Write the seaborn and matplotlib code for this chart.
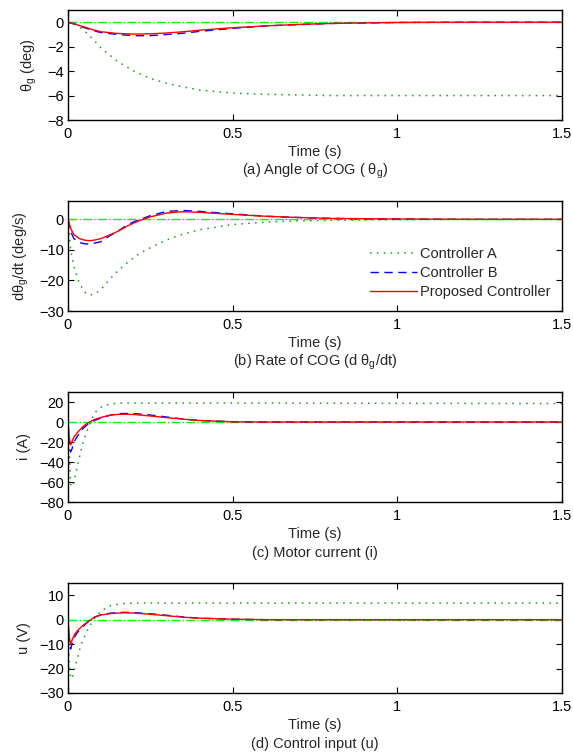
import matplotlib
matplotlib.use("Agg")
import matplotlib.pyplot as plt
import pandas as pd
import seaborn as sns

# (a) angle of COG
t_a = [0, 0.02, 0.05, 0.08, 0.1, 0.15, 0.2, 0.25, 0.3, 0.35, 0.4, 0.5, 0.6, 0.7, 0.8, 1.0, 1.2, 1.5]
a_ctrl_a = [0, -0.1, -0.7, -1.5, -2.1, -3.2, -4.0, -4.6, -5.0, -5.3, -5.55, -5.8, -5.9, -5.95, -6.0, -6.0, -6.0, -6.0]
a_ctrl_b = [0, -0.15, -0.45, -0.7, -0.85, -1.0, -1.1, -1.1, -1.0, -0.9, -0.75, -0.5, -0.3, -0.2, -0.1, -0.02, 0, 0]
a_prop = [0, -0.15, -0.4, -0.65, -0.78, -0.92, -0.97, -0.95, -0.88, -0.78, -0.65, -0.45, -0.3, -0.18, -0.1, -0.02, 0, 0]

# (b) rate of COG
t_b = [0, 0.008, 0.018, 0.034, 0.05, 0.065, 0.08, 0.1, 0.125, 0.15, 0.18, 0.2, 0.22, 0.25, 0.3, 0.35,
       0.4, 0.5, 0.6, 0.7, 0.8, 1.0, 1.2, 1.5]
b_ctrl_a = [0, -10, -15.4, -20.8, -23.8, -24.8, -24.5, -23, -19.8, -17, -14.2, -12.5, -11, -9.3, -6.7, -4.8,
            -3.4, -1.7, -0.9, -0.5, -0.3, -0.1, 0, 0]
b_ctrl_b = [0, -4, -6.3, -7.6, -8.0, -8.1, -7.8, -7.3, -5.5, -4, -1.8, -0.8, 0, 1.2, 2.6, 2.9,
            2.6, 1.8, 1.0, 0.6, 0.3, 0.1, 0, 0]
b_prop = [0, -3, -5.0, -6.3, -6.8, -7.0, -6.8, -6.3, -5.2, -4, -2.2, -1.2, -0.3, 0.8, 2.1, 2.5,
          2.3, 1.6, 1.0, 0.6, 0.3, 0.1, 0, 0]

# (c) motor current
t_c = [0, 0.004, 0.008, 0.012, 0.018, 0.029, 0.044, 0.059, 0.08, 0.105, 0.13, 0.156, 0.17, 0.2, 0.25,
       0.3, 0.35, 0.4, 0.5, 0.6, 0.8, 1.0, 1.5]
c_ctrl_a = [0, -30, -62, -65, -60, -43, -22, -8, 9, 16, 18, 19, 19, 19, 19,
            19, 19, 19, 19, 19, 18.8, 18.7, 18.5]
c_ctrl_b = [0, -24, -30, -27, -20, -14, -7, -2.5, 1.5, 4.5, 7, 8.3, 8.5, 8.5, 7,
            5, 3, 1.5, 0.3, 0, 0, 0, 0]
c_prop = [0, -16, -23, -20, -15, -10.5, -5, -1.2, 2.5, 5, 7, 7.7, 7.8, 7.5, 6,
          4.3, 2.8, 1.5, 0.2, 0, 0, 0, 0]

# (d) control input
t_d = [0, 0.004, 0.008, 0.012, 0.02, 0.03, 0.04, 0.06, 0.08, 0.1, 0.13, 0.17, 0.2, 0.25,
       0.3, 0.35, 0.4, 0.5, 0.6, 0.8, 1.0, 1.5]
d_ctrl_a = [0, -18, -24, -24, -20, -15, -10, -4, 0.5, 3.5, 5.8, 6.6, 6.8, 6.8,
            6.8, 6.8, 6.8, 6.8, 6.8, 6.8, 6.8, 6.8]
d_ctrl_b = [0, -9, -12, -10, -7, -5, -3.5, -1, 1, 2, 2.7, 3, 2.9, 2.4,
            1.8, 1.1, 0.6, 0.2, 0, 0, 0, 0]
d_prop = [0, -7, -10, -8.5, -6, -4.3, -3, -0.8, 1, 1.9, 2.5, 2.8, 2.7, 2.2,
          1.6, 1.0, 0.6, 0.2, 0, 0, 0, 0]

t_ref = [0, 1.5]
ref = [0, 0]

panels = [
    (t_a, a_ctrl_a, a_ctrl_b, a_prop, "θ$_\\mathregular{g}$ (deg)", "(a) Angle of COG ( θ$_\\mathregular{g}$)",
     (-8, 1), [-8, -6, -4, -2, 0]),
    (t_b, b_ctrl_a, b_ctrl_b, b_prop, "dθ$_\\mathregular{g}$/dt (deg/s)",
     "(b) Rate of COG (d θ$_\\mathregular{g}$/dt)", (-30, 6), [-30, -20, -10, 0]),
    (t_c, c_ctrl_a, c_ctrl_b, c_prop, "i (A)", "(c) Motor current (i)",
     (-80, 30), [-80, -60, -40, -20, 0, 20]),
    (t_d, d_ctrl_a, d_ctrl_b, d_prop, "u (V)", "(d) Control input (u)",
     (-30, 15), [-30, -20, -10, 0, 10]),
]

sns.set_theme(style="ticks")
plt.rcParams["font.family"] = ["Liberation Sans", "DejaVu Sans"]
plt.rcParams["mathtext.fontset"] = "custom"
plt.rcParams["mathtext.rm"] = "Liberation Sans"

FS = 10.5
fig = plt.figure(figsize=(5.73, 7.53), dpi=100)
W, H = 573, 753
tops = [10, 201, 392, 583]

for i, (t, ya, yb, yp, ylab, cap, ylim, yticks) in enumerate(panels):
    top = tops[i]
    ax = fig.add_axes([68 / W, 1 - (top + 110) / H, 494 / W, 110 / H])
    sns.lineplot(x=t_ref, y=ref, ax=ax, color="#00ff00", linestyle="-.", linewidth=1.0)
    sns.lineplot(x=t, y=ya, ax=ax, color="#1a991a", linestyle=(0, (1, 3.5)), linewidth=1.1,
                 label="Controller A")
    sns.lineplot(x=t, y=yb, ax=ax, color="#0000ff", linestyle=(0, (6, 4)), linewidth=1.0,
                 label="Controller B")
    sns.lineplot(x=t, y=yp, ax=ax, color="#ff0000", linestyle="-", linewidth=1.0,
                 label="Proposed Controller")
    ax.set_xlim(0, 1.5)
    ax.set_ylim(*ylim)
    ax.set_xticks([0, 0.5, 1, 1.5])
    ax.set_xticklabels(["0", "0.5", "1", "1.5"])
    ax.set_yticks(yticks)
    ax.set_yticklabels([str(v).replace("-", "\u2212") for v in yticks])
    ax.tick_params(direction="in", top=True, right=True, labelsize=FS, length=4, width=0.8,
                   colors="black")
    ax.tick_params(axis="x", pad=5)
    ax.tick_params(axis="y", pad=3)
    for sp in ax.spines.values():
        sp.set_linewidth(1.0)
        sp.set_color("black")
    ax.set_xlabel("Time (s)", fontsize=FS, labelpad=3)
    ax.set_ylabel(ylab, fontsize=FS, labelpad=6)
    ax.annotate(cap, xy=(0.5, 0), xycoords="axes fraction", xytext=(0, -51 * 0.72),
                textcoords="offset points", ha="center", va="center", fontsize=FS)
    if i == 1:
        ax.legend(loc="lower right", frameon=False, fontsize=FS, handlelength=3.2,
                  borderaxespad=0.4, labelspacing=0.35, handletextpad=0.2)
    else:
        ax.get_legend().remove()

fig.savefig("out.png", dpi=100, facecolor="white")
